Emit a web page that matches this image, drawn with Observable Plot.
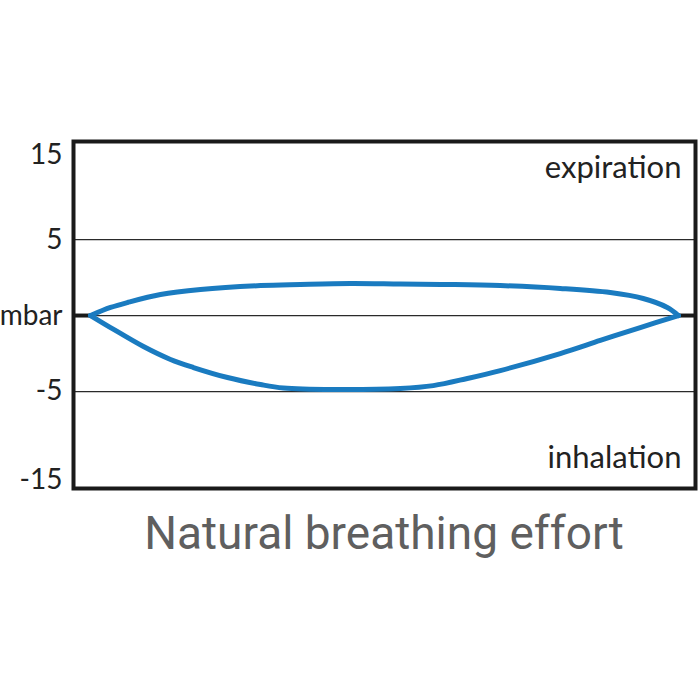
<!DOCTYPE html>
<html><head><meta charset="utf-8">
<script src="https://cdn.jsdelivr.net/npm/d3@7"></script>
<script src="https://cdn.jsdelivr.net/npm/@observablehq/plot@0.6"></script>
<style>
body{margin:0;background:#fff;}
#title{font-family:Roboto,"Liberation Sans",sans-serif;font-size:46px;color:#5f5f5f;text-align:center;margin-top:2px;margin-left:73px;width:622px;line-height:1.17;}
</style></head><body>
<div id="chart"></div>
<div id="title">Natural breathing effort</div>
<script>
// Breathing cycle (time in % of cycle, pressure in mbar)
const expirationTime = [0, 3.4, 6.3, 11.9, 18.7, 28.9, 35.7, 44.2, 52.7, 61.2, 69.7, 79.9, 88.4, 94.0, 98.1, 100];
const expirationPressure = [0, 0.53, 0.86, 1.38, 1.71, 1.97, 2.04, 2.1, 2.07, 2.04, 1.97, 1.78, 1.51, 1.12, 0.53, 0];
const inhalationTime = [0, 3.4, 9.0, 13.6, 17.5, 23.3, 28.9, 32.8, 41.3, 52.7, 58.3, 64.1, 69.7, 79.9, 86.7, 93.5, 100];
const inhalationPressure = [0, -0.79, -2.04, -2.89, -3.42, -4.08, -4.54, -4.77, -4.87, -4.80, -4.61, -4.14, -3.62, -2.50, -1.64, -0.79, 0];

const yTicks = [15, 5, 0, -5, -15];
const yTickLabels = ["15", "5", "mbar", "-5", "-15"];
const gridValues = [5, 0, -5];
const xDomain = [-2.9, 102.9];
const phaseLabels = ["expiration", "inhalation"];

// The original axis is compressed beyond ±5 mbar (non-linear schematic scale)
const yWarp = d3.scaleLinear().domain([-15, -5, 5, 15]).range([-10.79, -5, 5, 10.53]);

const rows = [
  ...expirationTime.map((t, i) => ({t, p: expirationPressure[i], phase: "expiration"})),
  ...inhalationTime.map((t, i) => ({t, p: inhalationPressure[i], phase: "inhalation"}))
];
const stubs = [
  {x1: xDomain[0], x2: expirationTime[0], y: 0},
  {x1: expirationTime[expirationTime.length - 1], x2: xDomain[1], y: 0}
];

const font = "Lato, 'Open Sans', sans-serif";
const chart = Plot.plot({
  width: 700,
  height: 505,
  marginLeft: 73,
  marginRight: 5,
  marginTop: 141,
  marginBottom: 17,
  style: {fontFamily: font, background: "#fff", color: "#222"},
  x: {domain: xDomain, axis: null},
  y: {domain: [-11.38, 11.45], axis: null},
  marks: [
    Plot.ruleY(gridValues, {y: d => yWarp(d), stroke: "#2a2a2a", strokeWidth: 1.3}),
    Plot.ruleY(stubs, {x1: "x1", x2: "x2", y: d => yWarp(d.y), stroke: "#1a1a1a", strokeWidth: 4}),
    Plot.line(rows, {x: "t", y: d => yWarp(d.p), z: "phase", curve: "catmull-rom", stroke: "#1a7bc0", strokeWidth: 5, strokeLinejoin: "round", strokeLinecap: "round"}),
    Plot.axisY(yTicks.map(v => yWarp(v)), {tickFormat: (d, i) => yTickLabels[i], tickSize: 0, tickPadding: 11, fontSize: 28, label: null, fill: "#222"}),
    Plot.text([phaseLabels[0]], {frameAnchor: "top-right", text: d => d, textAnchor: "end", lineAnchor: "bottom", dx: -14, dy: 36, fontSize: 31, fill: "#222"}),
    Plot.text([phaseLabels[1]], {frameAnchor: "bottom-right", text: d => d, textAnchor: "end", lineAnchor: "bottom", dx: -14, dy: -21, fontSize: 31, fill: "#222"}),
    Plot.frame({stroke: "#1a1a1a", strokeWidth: 4})
  ]
});
document.getElementById("chart").appendChild(chart);
</script>
</body></html>
